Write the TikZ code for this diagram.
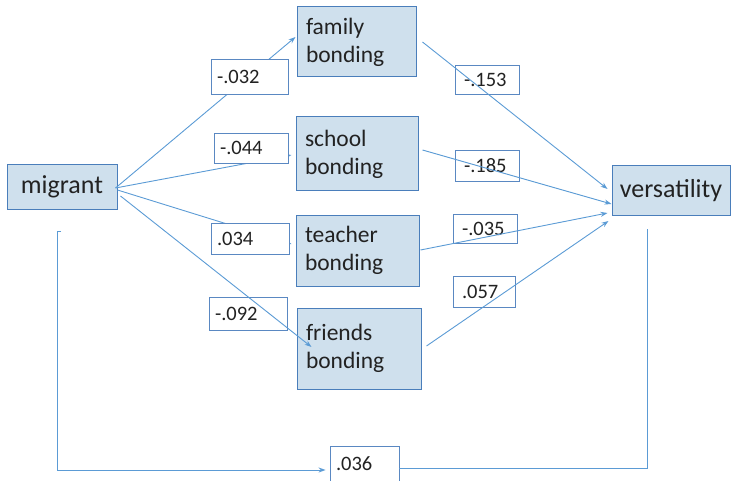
\documentclass[tikz,border=0pt]{standalone}
\usepackage{fontspec}
\setmainfont{Carlito}
\usetikzlibrary{arrows.meta,calc}
\definecolor{boxfill}{HTML}{CFE0ED}
\definecolor{boxline}{HTML}{4A7EBB}
\definecolor{coefline}{HTML}{5A88C2}
\definecolor{wire}{HTML}{5B9BD5}
\definecolor{ink}{HTML}{222222}
\tikzset{
  var/.style={draw=boxline, fill=boxfill, line width=1pt, inner xsep=9pt, inner ysep=0pt,
    align=left, text=ink, font=\fontsize{23.5}{28}\selectfont},
  endvar/.style={draw=boxline, fill=boxfill, line width=1pt, inner sep=0pt,
    align=center, text=ink, font=\fontsize{26}{31}\selectfont},
  coef/.style={draw=coefline, fill=white, line width=0.9pt, inner xsep=6pt, inner ysep=0pt,
    align=left, text=ink, font=\fontsize{20.5}{24}\selectfont},
  path/.style={draw=wire, line width=0.9pt, -{Stealth[length=7pt,width=5pt]}},
  plain/.style={draw=wire, line width=0.9pt}
}
\begin{document}
\begin{tikzpicture}[x=1pt,y=-1pt]
\useasboundingbox (0,0) rectangle (733,481);

% variables
\node[endvar, minimum width=110pt, minimum height=44pt] (migrant) at (62,187) {migrant};
\node[var, text width=101pt, minimum height=70pt] (family) at (356.5,42) {family\\bonding};
\node[var, text width=104pt, minimum height=74pt] (school) at (357,154) {school\\bonding};
\node[var, text width=105pt, minimum height=71pt] (teacher) at (357.5,250.5) {teacher\\bonding};
\node[var, text width=106pt, minimum height=81pt] (friends) at (359,348.5) {friends\\bonding};
\node[endvar, minimum width=118pt, minimum height=49pt] (vers) at (671,190.5) {versatility};

% paths from migrant to the bonding variables
\draw[path] ($(migrant.east)+(-2,1)$) -- ($(family.west)+(-1,-5)$);
\draw[path] ($(migrant.east)+(-2,1)$) -- ($(school.west)+(-4,1)$);
\draw[path] ($(migrant.east)+(0,3)$) -- ($(teacher.west)+(-4,-6.5)$);

% coefficients on the left
\node[coef, text width=65pt, minimum height=35pt] (l032) at (249.5,76.5) {-.032};
\node[coef, text width=62pt, minimum height=30pt] (l044) at (251,148) {-.044};
\node[coef, text width=66pt, minimum height=31pt] (l034) at (250,238.5) {.034};
\node[coef, text width=66pt, minimum height=33pt] (l092) at (248,313.5) {-.092};

\draw[path] ($(migrant.east)+(3,9)$) -- ($(friends.west)+(15,-1.5)$);

% coefficients on the right
\node[coef, inner xsep=9pt, text width=46pt, minimum height=29pt] (l153) at (487,79.5) {-.153};
\node[coef, inner xsep=9pt, text width=46pt, minimum height=31pt] (l185) at (487,165.5) {-.185};
\node[coef, inner xsep=9pt, text width=46pt, minimum height=29pt] (l035) at (485,228.5) {-.035};
\node[coef, inner xsep=9pt, text width=44pt, minimum height=31pt] (l057) at (484,291.5) {.057};

% paths into versatility
\draw[path] ($(family.east)+(6,0)$) -- ($(vers.west)+(-4,-1.5)$);
\draw[path] ($(school.east)+(4,-4)$) -- ($(vers.west)+(0,13.5)$);
\draw[path] ($(teacher.east)+(1,-0.5)$) -- ($(vers.west)+(-4,22.5)$);
\draw[path] ($(friends.east)+(5,-2.5)$) -- ($(vers.west)+(-3,30.5)$);

% direct effect
\node[coef, text width=57pt, minimum height=36pt] (l036) at (364.5,464) {.036};
\coordinate (dstart) at (57,231);
\coordinate (dend) at (647,229);
\draw[path] ($(dstart)+(4,0)$) -- (dstart) |- ($(l036.west)+(-4,6)$);
\draw[plain] ($(l036.east)+(0,4)$) -| (dend);
\end{tikzpicture}
\end{document}
